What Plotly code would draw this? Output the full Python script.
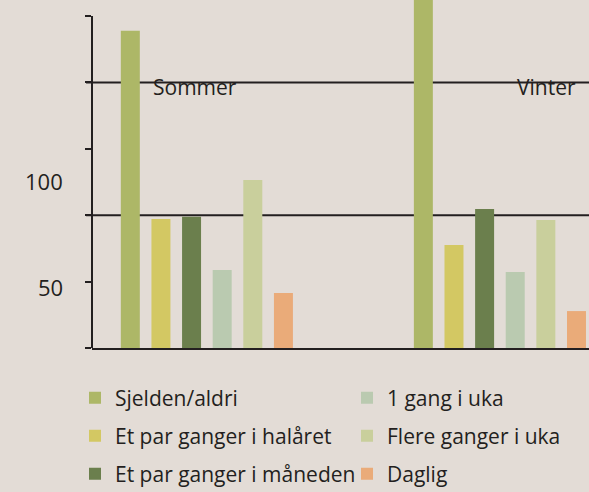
import plotly.graph_objects as go

seasons = ["Sommer", "Vinter"]
categories = [
    "Sjelden/aldri",
    "Et par ganger i halåret",
    "Et par ganger i måneden",
    "1 gang i uka",
    "Flere ganger i uka",
    "Daglig",
]
sommer = [119.4, 48.6, 49.4, 29.4, 63.3, 20.7]
vinter = [140.0, 38.8, 52.3, 28.6, 48.2, 13.9]
colors = ["#adb767", "#d3c863", "#6b7f4d", "#bacab0", "#c9cf9c", "#eaab79"]

y_ticks = [0, 25, 50, 75, 100, 125]
grid_lines = [50, 100]
label_text = ["100", "50"]
label_pos = [62.9, 23.0]

bg = "#e3dcd6"
ink = "#231f20"
font = "Open Sans"
W, H = 589, 492

# legend boxes: two columns x three rows (left px, centre y px)
leg_x = [75, 75, 75, 347, 347, 347]
leg_y = [398, 436, 474, 398, 436, 474]

fig = go.Figure()
legends = {}
for i, cat in enumerate(categories):
    key = "legend" if i == 0 else f"legend{i + 1}"
    fig.add_trace(go.Bar(
        x=[0, 1], y=[sommer[i], vinter[i]], name=cat,
        marker=dict(color=colors[i], line=dict(width=0)),
        legend=key,
    ))
    legends[key] = dict(xref="container", yref="container",
                        x=leg_x[i] / W, xanchor="left",
                        y=1 - leg_y[i] / H, yanchor="middle",
                        bgcolor="rgba(0,0,0,0)", font=dict(size=21, color=ink),
                        itemwidth=30)

for g in grid_lines:
    fig.add_shape(type="line", xref="paper", yref="y", x0=-0.012, x1=1, y0=g, y1=g,
                  line=dict(color=ink, width=2), layer="below")

# y axis line stops at the top tick
fig.add_shape(type="line", xref="paper", yref="y", x0=0, x1=0, y0=0, y1=y_ticks[-1],
              line=dict(color=ink, width=2))

for t, yv in zip(label_text, label_pos):
    fig.add_annotation(x=0, xref="paper", y=yv, yref="y", text=t, showarrow=False,
                       xanchor="right", xshift=-27, font=dict(size=22, color=ink))

for s, xv in zip(seasons, [0, 1]):
    fig.add_annotation(x=xv, y=100, text=s, showarrow=False, yanchor="middle", yshift=-5,
                       xanchor="left" if xv == 0 else "right",
                       xshift=-56 if xv == 0 else 78,
                       font=dict(size=21, color=ink))

fig.update_layout(
    width=W, height=H,
    margin=dict(l=92, r=0, t=0, b=144, autoexpand=False),
    paper_bgcolor=bg, plot_bgcolor=bg,
    font=dict(family=font, size=21, color=ink),
    barmode="group", bargap=0.373, bargroupgap=0.38,
    showlegend=True,
    xaxis=dict(range=[-0.392, 1.304], showticklabels=False, ticks="", showgrid=False,
               zeroline=False, showline=True, linecolor=ink, linewidth=2),
    yaxis=dict(range=[0, 125 * 348 / 332], tickvals=y_ticks, showticklabels=False,
               ticks="outside", ticklen=6, tickwidth=2, tickcolor=ink, showgrid=False,
               zeroline=False, showline=False),
    **legends,
)

fig.write_html("out.html", config={"displayModeBar": False},
               post_script="document.body.style.margin='0';"
                           "document.body.style.overflow='hidden';")
